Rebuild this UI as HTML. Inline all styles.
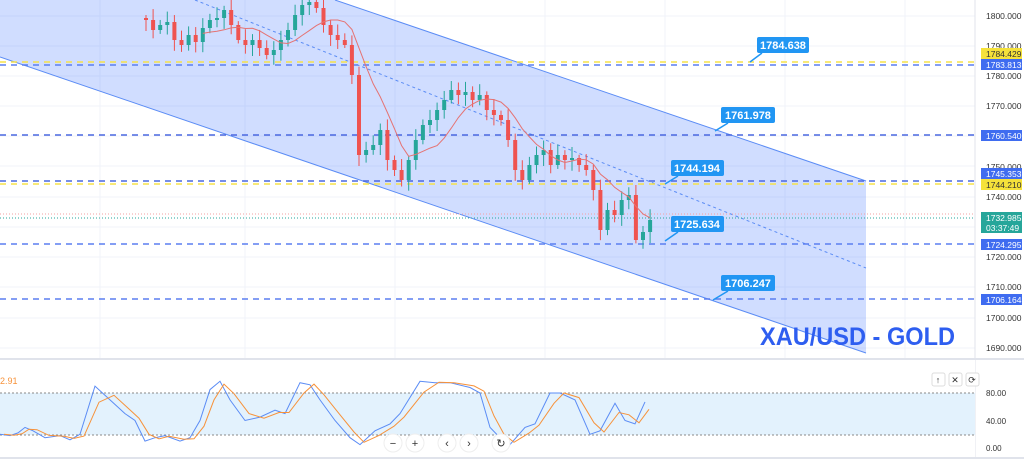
<!DOCTYPE html>
<html><head><meta charset="utf-8"><style>
html,body{margin:0;padding:0;background:#fff;}
svg{display:block;font-family:"Liberation Sans",sans-serif;}
</style></head><body>
<svg id="s" width="1024" height="459" viewBox="0 0 1024 459" xmlns="http://www.w3.org/2000/svg">
<rect width="1024" height="459" fill="#fff"/>
<g id="grid" stroke="#f0f3fa" stroke-width="1"></g>
<polygon points="0,0 335,0 866,181 866,353 0,57" fill="#2962ff" fill-opacity="0.22"/>
<line x1="335" y1="0" x2="866" y2="181" stroke="#5b8cf5" stroke-width="1"/>
<line x1="0" y1="57" x2="866" y2="353" stroke="#5b8cf5" stroke-width="1"/>
<line x1="195" y1="0" x2="866" y2="268" stroke="#5b8cf5" stroke-width="1" stroke-dasharray="3,3"/>
<g stroke-dasharray="6,5" stroke-width="1.5">
<line x1="0" y1="62" x2="975" y2="62" stroke="#f5e24a"/>
<line x1="0" y1="65" x2="975" y2="65" stroke="#5b7ff0"/>
<line x1="0" y1="135" x2="975" y2="135" stroke="#4a68e0"/>
<line x1="0" y1="181" x2="975" y2="181" stroke="#4a68e0"/>
<line x1="0" y1="184" x2="975" y2="184" stroke="#f5e24a"/>
<line x1="0" y1="244" x2="975" y2="244" stroke="#5b7ff0"/>
<line x1="0" y1="299" x2="975" y2="299" stroke="#5b7ff0"/>
</g>
<line x1="0" y1="214" x2="975" y2="214" stroke="#f3a0a0" stroke-dasharray="1,2"/>
<line x1="0" y1="218" x2="975" y2="218" stroke="#26a69a" stroke-dasharray="1,2"/>
<g id="candles"></g>
<polyline id="ma" fill="none" stroke="#e57373" stroke-width="1"/>
<g font-size="11" font-weight="bold" fill="#fff" text-anchor="middle">
<path d="M750,62 L762,53" stroke="#2196f3" stroke-width="1.5"/>
<rect x="757" y="37" width="52" height="16" rx="2" fill="#2196f3"/><text x="783" y="49">1784.638</text>
<path d="M715,131 L728,123" stroke="#2196f3" stroke-width="1.5"/>
<rect x="721" y="107" width="54" height="16" rx="2" fill="#2196f3"/><text x="748" y="119">1761.978</text>
<path d="M665,184 L678,176" stroke="#2196f3" stroke-width="1.5"/>
<rect x="671" y="160" width="53" height="16" rx="2" fill="#2196f3"/><text x="697" y="172">1744.194</text>
<path d="M665,241 L678,232" stroke="#2196f3" stroke-width="1.5"/>
<rect x="671" y="216" width="53" height="16" rx="2" fill="#2196f3"/><text x="697" y="228">1725.634</text>
<path d="M713,300 L728,291" stroke="#2196f3" stroke-width="1.5"/>
<rect x="721" y="275" width="54" height="16" rx="2" fill="#2196f3"/><text x="748" y="287">1706.247</text>
</g>
<text x="760" y="345" font-size="25" font-weight="bold" fill="#2e5ef0" textLength="195" lengthAdjust="spacingAndGlyphs">XAU/USD - GOLD</text>
<rect x="975" y="0" width="49" height="459" fill="#fff"/>
<line x1="975" y1="0" x2="975" y2="459" stroke="#e0e3eb"/>
<g font-size="8.5" fill="#333" text-anchor="start">
<text x="986" y="19">1800.000</text><text x="986" y="49">1790.000</text><text x="986" y="79">1780.000</text>
<text x="986" y="109">1770.000</text><text x="986" y="170">1750.000</text><text x="986" y="200">1740.000</text>
<text x="986" y="260">1720.000</text><text x="986" y="290">1710.000</text><text x="986" y="321">1700.000</text><text x="986" y="351">1690.000</text>
</g>
<g font-size="8.5" text-anchor="start">
<rect x="981" y="48" width="41" height="11" fill="#f5e23a"/><text x="986" y="57" fill="#333">1784.429</text>
<rect x="981" y="59" width="41" height="11" fill="#3f6cf0"/><text x="986" y="68" fill="#fff">1783.813</text>
<rect x="981" y="130" width="41" height="11" fill="#3f6cf0"/><text x="986" y="139" fill="#fff">1760.540</text>
<rect x="981" y="168" width="41" height="11" fill="#3f6cf0"/><text x="986" y="177" fill="#fff">1745.353</text>
<rect x="981" y="179" width="41" height="11" fill="#f5e23a"/><text x="986" y="188" fill="#333">1744.210</text>
<rect x="981" y="212" width="41" height="21" fill="#26a69a"/><text x="986" y="221" fill="#fff">1732.985</text><text x="986" y="231" fill="#fff">03:37:49</text>
<rect x="981" y="239" width="41" height="11" fill="#3f6cf0"/><text x="986" y="248" fill="#fff">1724.295</text>
<rect x="981" y="294" width="41" height="11" fill="#3f6cf0"/><text x="986" y="303" fill="#fff">1706.164</text>
</g>
<rect x="0" y="358" width="975" height="101" fill="#fff"/>
<line x1="0" y1="359" x2="1024" y2="359" stroke="#e0e3eb" stroke-width="2"/>
<line x1="0" y1="458" x2="1024" y2="458" stroke="#e0e3eb" stroke-width="2"/>
<rect x="0" y="393" width="975" height="42" fill="#e3f2fd"/>
<line x1="0" y1="393" x2="975" y2="393" stroke="#888" stroke-dasharray="2,2"/>
<line x1="0" y1="435" x2="975" y2="435" stroke="#888" stroke-dasharray="2,2"/>
<polyline id="k" fill="none" stroke="#5b8cf5" stroke-width="1"/>
<polyline id="d" fill="none" stroke="#f7923a" stroke-width="1"/>
<text x="0" y="384" font-size="9" fill="#f7923a">2.91</text>
<g font-size="8" fill="#333"><text x="986" y="396">80.00</text><text x="986" y="424">40.00</text><text x="986" y="451">0.00</text></g>
<g fill="#fff" stroke="#ddd"><rect x="932" y="373" width="13" height="13" rx="2"/><rect x="949" y="373" width="13" height="13" rx="2"/><rect x="966" y="373" width="13" height="13" rx="2"/></g>
<g font-size="9" fill="#333" text-anchor="middle"><text x="938" y="383">↑</text><text x="955" y="383">✕</text><text x="972" y="383">⟳</text></g>
<g fill="#fff" stroke="#eee"><circle cx="393" cy="443" r="9"/><circle cx="415" cy="443" r="9"/><circle cx="447" cy="443" r="9"/><circle cx="469" cy="443" r="9"/><circle cx="501" cy="443" r="9"/></g>
<g font-size="11" fill="#333" text-anchor="middle"><text x="393" y="447">−</text><text x="415" y="447">+</text><text x="447" y="447">‹</text><text x="469" y="447">›</text><text x="501" y="447">↻</text></g>
</svg>
<script>
var NS="http://www.w3.org/2000/svg";
function el(t,a,p){var e=document.createElementNS(NS,t);for(var k in a)e.setAttribute(k,a[k]);p.appendChild(e);return e;}
var g=document.getElementById("grid");
[16,46,76,106,136,166,197,227,257,287,318,348].forEach(function(y){el("line",{x1:0,y1:y,x2:975,y2:y},g);});
[100,245,395,545,665,785,905].forEach(function(x){el("line",{x1:x,y1:0,x2:x,y2:459},g);});
var c=[20,30,25,22,40,45,35,42,28,20,18,10,25,40,45,40,48,55,50,40,30,15,5,2,8,25,35,40,45,75,155,150,145,130,160,170,180,160,140,125,120,110,100,90,95,92,100,95,110,115,120,140,170,180,165,155,150,165,155,160,158,165,170,190,230,210,215,200,195,240,232,220];
var cg=document.getElementById("candles"),prev=18,ma=[];
for(var i=0;i<c.length;i++){var x=146+i*7.1,o=prev,cl=c[i];
 var hi=Math.min(o,cl)-3-Math.abs(Math.sin(i*1.7))*8,lo=Math.max(o,cl)+3+Math.abs(Math.cos(i*2.3))*8;
 var col=cl<o?"#26a69a":"#ef5350";
 el("line",{x1:x,y1:hi,x2:x,y2:lo,stroke:col,"stroke-width":1},cg);
 el("rect",{x:x-2,y:Math.min(o,cl),width:4,height:Math.max(1,Math.abs(cl-o)),fill:col},cg);
 prev=cl;
 var s=0,n=0;for(var j=Math.max(0,i-7);j<=i;j++){s+=c[j];n++;} ma.push((x).toFixed(1)+","+(s/n).toFixed(1));}
document.getElementById("ma").setAttribute("points",ma.slice(8).join(" "));
var kp=[[0,20],[10,18],[18,22],[25,30],[33,25],[45,15],[60,18],[70,12],[80,20],[95,90],[110,70],[125,50],[135,40],[145,10],[155,15],[165,18],[180,10],[190,15],[200,40],[210,85],[220,97],[230,70],[245,40],[260,45],[275,55],[285,50],[300,95],[310,92],[320,70],[335,40],[350,15],[360,5],[375,25],[390,35],[400,50],[420,97],[435,95],[450,95],[470,88],[480,80],[490,30],[500,15],[510,5],[525,30],[535,35],[550,80],[560,80],[575,70],[590,20],[600,25],[615,65],[625,40],[635,35],[645,67]];
function Y(v){return 448-v*0.6875;}
document.getElementById("k").setAttribute("points",kp.map(function(p){return p[0]+","+Y(p[1]).toFixed(1);}).join(" "));
var dp=[];for(var i=0;i<kp.length;i++){var a=kp[Math.max(0,i-1)][1],b=kp[i][1];dp.push((kp[i][0]+4)+","+Y((a+2*b)/3).toFixed(1));}
document.getElementById("d").setAttribute("points",dp.join(" "));
</script>
</body></html>
